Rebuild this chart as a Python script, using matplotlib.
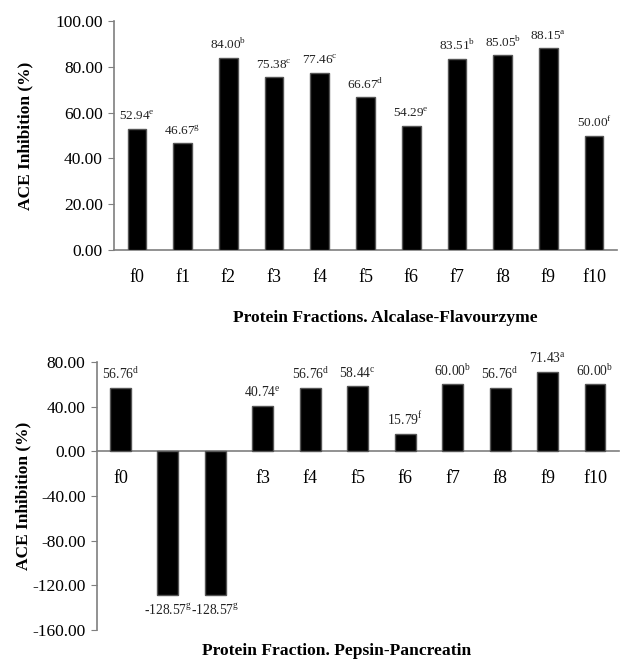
import matplotlib.pyplot as plt
import numpy as np

plt.rcParams['font.family'] = ['Liberation Serif', 'DejaVu Serif']
plt.rcParams['mathtext.fontset'] = 'custom'
plt.rcParams['mathtext.rm'] = 'Liberation Serif'

fractions = ["f0", "f1", "f2", "f3", "f4", "f5", "f6", "f7", "f8", "f9", "f10"]

alcalase = [52.94, 46.67, 84.00, 75.38, 77.46, 66.67, 54.29, 83.51, 85.05, 88.15, 50.00]
alcalase_letters = ["e", "g", "b", "c", "c", "d", "e", "b", "b", "a", "f"]

pepsin = [56.76, -128.57, -128.57, 40.74, 56.76, 58.44, 15.79, 60.00, 56.76, 71.43, 60.00]
pepsin_letters = ["d", "g", "g", "e", "d", "c", "f", "b", "d", "a", "b"]

gray = "#7f7f7f"

fig = plt.figure(figsize=(6.2, 6.59), dpi=100)


def draw(ax, values, letters, width, label_size):
    x = np.arange(len(values))
    ax.bar(x, values, width=width, color="black", edgecolor="#555555",
           linewidth=1.0, zorder=3)
    for xi, v, l in zip(x, values, letters):
        txt = f"{v:.2f}" + r"$^{\mathrm{" + l + "}}$"
        if v >= 0:
            ax.annotate(txt, (xi, v), xytext=(0, 4), textcoords="offset points",
                        ha="center", va="bottom", fontsize=label_size, color="#222222")
        else:
            ax.annotate(txt, (xi, v), xytext=(0, -6), textcoords="offset points",
                        ha="center", va="top", fontsize=label_size, color="#222222")
    ax.set_xlim(-0.5, len(values) - 0.5)
    for s in ["top", "right"]:
        ax.spines[s].set_visible(False)
    ax.spines["left"].set_color(gray)
    ax.spines["bottom"].set_color(gray)
    ax.spines["left"].set_linewidth(1.2)
    ax.spines["bottom"].set_linewidth(1.2)
    ax.tick_params(axis="y", direction="out", length=4, color=gray, labelsize=12.5, pad=4)
    ax.tick_params(axis="x", length=0)
    ax.set_ylabel("ACE Inhibition (%)", fontsize=12.5, fontweight="bold")
    ax.yaxis.set_major_formatter(plt.FuncFormatter(lambda v, p: f"{v:.2f}"))


# top chart
ax1 = fig.add_axes([0.184, 0.6206, 0.811, 0.3474])
draw(ax1, alcalase, alcalase_letters, 0.41, 9.5)
ax1.set_ylim(0, 100)
ax1.set_yticks(np.arange(0, 101, 20))
ax1.set_xticks(np.arange(len(fractions)))
ax1.set_xticklabels(fractions, fontsize=13)
ax1.tick_params(axis="x", pad=14)
ax1.yaxis.set_label_coords(-0.16, 0.5)
fig.text(385 / 620, 1 - 318 / 659, "Protein Fractions. Alcalase-Flavourzyme",
         ha="center", va="center", fontsize=12.6, fontweight="bold")

# bottom chart
ax2 = fig.add_axes([0.156, 0.0440, 0.842, 0.4067])
draw(ax2, pepsin, pepsin_letters, 0.44, 9.8)
ax2.set_ylim(-160, 80)
ax2.set_yticks(np.arange(-160, 81, 40))
ax2.spines["bottom"].set_position(("data", 0))
ax2.set_xticks([])
for xi, f in enumerate(fractions):
    ax2.text(xi, -24, f, ha="center", va="center", fontsize=13, zorder=1)
ax2.yaxis.set_label_coords(-0.125, 0.5)
fig.text(337 / 620, 1 - 651 / 659, "Protein Fraction. Pepsin-Pancreatin",
         ha="center", va="center", fontsize=12.6, fontweight="bold")

fig.savefig("out.png", dpi=100)
